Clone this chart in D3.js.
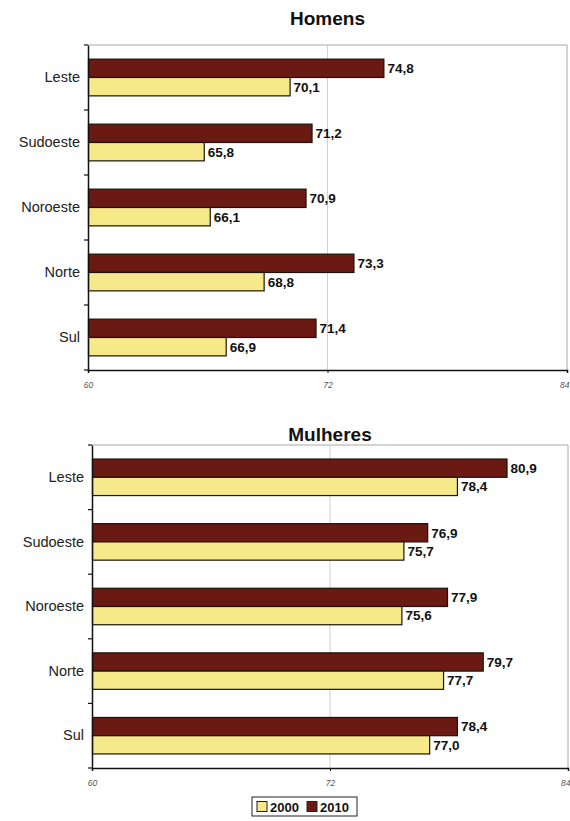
<!DOCTYPE html>
<html>
<head>
<meta charset="utf-8">
<script src="https://cdn.jsdelivr.net/npm/d3@7"></script>
<style>
  html, body { margin: 0; padding: 0; background: #fff; }
  svg { display: block; font-family: "Liberation Sans", Arial, sans-serif; }
</style>
</head>
<body>
<svg id="chart" width="570" height="821"></svg>
<script>
// Regions, top to bottom
const regions = ["Leste", "Sudoeste", "Noroeste", "Norte", "Sul"];
// Series drawn inside each band: 2010 on top, 2000 below
const years = ["2010", "2000"];
const legendYears = ["2000", "2010"];

// Life expectancy (years) by region
const homens2000 = [70.1, 65.8, 66.1, 68.8, 66.9];
const homens2010 = [74.8, 71.2, 70.9, 73.3, 71.4];
const mulheres2000 = [78.4, 75.7, 75.6, 77.7, 77.0];
const mulheres2010 = [80.9, 76.9, 77.9, 79.7, 78.4];

const xTicks = [60, 72, 84];

const colors = { "2000": "#f6e98a", "2010": "#6b1a13" };
const fmt = v => v.toFixed(1).replace(".", ",");

const svg = d3.select("#chart");

function panel(cfg) {
  const { title, v2000, v2010, left, right, top, bottom, titleY } = cfg;
  const g = svg.append("g");
  const x = d3.scaleLinear().domain([60, 84]).range([left, right]);
  const y = d3.scaleBand().domain(regions).range([top, bottom]).paddingInner(0).paddingOuter(0);
  const ySub = d3.scaleBand().domain(years).range([0, y.bandwidth()]).paddingOuter(0.77).paddingInner(0);

  const rows = regions.map((r, i) => ({ region: r, "2000": v2000[i], "2010": v2010[i] }));

  // plot frame: top and right edges
  g.append("path")
    .attr("d", `M${left},${top}H${right}V${bottom}`)
    .attr("fill", "none").attr("stroke", "#a8a8a8").attr("stroke-width", 1);

  // vertical grid at 72
  g.selectAll(".grid").data(xTicks.slice(1, -1)).join("line")
    .attr("x1", d => x(d)).attr("x2", d => x(d))
    .attr("y1", top).attr("y2", bottom)
    .attr("stroke", "#d0d0d0").attr("stroke-width", 1);

  // title
  g.append("text")
    .attr("x", (left + right) / 2).attr("y", titleY)
    .attr("text-anchor", "middle")
    .attr("font-size", 19).attr("font-weight", "bold").attr("fill", "#111")
    .text(title);

  // bars
  const grp = g.selectAll(".row").data(rows).join("g")
    .attr("transform", d => `translate(0,${y(d.region)})`);
  grp.selectAll("rect").data(d => years.map(k => ({ key: k, value: d[k] }))).join("rect")
    .attr("x", x(60) + 0.5)
    .attr("y", d => ySub(d.key))
    .attr("width", d => x(d.value) - x(60))
    .attr("height", ySub.bandwidth())
    .attr("fill", d => colors[d.key])
    .attr("stroke", "#1a1208").attr("stroke-width", 1.2);
  grp.selectAll("text").data(d => years.map(k => ({ key: k, value: d[k] }))).join("text")
    .attr("x", d => x(d.value) + 4)
    .attr("y", d => ySub(d.key) + ySub.bandwidth() / 2)
    .attr("dy", "0.36em")
    .attr("font-size", 13.5).attr("font-weight", "bold").attr("fill", "#111")
    .text(d => fmt(d.value));

  // left axis with category labels
  const yAxis = d3.axisLeft(y).tickSize(0).tickPadding(8);
  const ya = g.append("g").attr("transform", `translate(${left},0)`).call(yAxis);
  ya.select(".domain").attr("stroke", "#111").attr("stroke-width", 1.5);
  ya.selectAll("text").attr("font-size", 14.5).attr("fill", "#222")
    .attr("font-family", "'Liberation Sans', Arial, sans-serif");
  // band boundary ticks
  g.selectAll(".bt").data(d3.range(regions.length + 1)).join("line")
    .attr("x1", left - 4).attr("x2", left)
    .attr("y1", i => top + i * y.step()).attr("y2", i => top + i * y.step())
    .attr("stroke", "#111").attr("stroke-width", 1.2);

  // bottom axis
  const xAxis = d3.axisBottom(x).tickValues(xTicks).tickSize(3).tickPadding(9);
  const xa = g.append("g").attr("transform", `translate(0,${bottom})`).call(xAxis);
  xa.select(".domain").attr("stroke", "#111").attr("stroke-width", 1.5);
  xa.selectAll("line").attr("stroke", "#111");
  xa.selectAll("text").attr("font-size", 8.5).attr("font-style", "italic").attr("fill", "#555")
    .attr("font-family", "'Liberation Sans', Arial, sans-serif")
    // keep the last label inside the page edge
    .attr("text-anchor", d => d === xTicks[xTicks.length - 1] ? "end" : "middle")
    .attr("dx", d => d === xTicks[xTicks.length - 1] ? 2 : 0);
}

panel({ title: "Homens", v2000: homens2000, v2010: homens2010,
        left: 88, right: 567, top: 45, bottom: 370, titleY: 25 });
panel({ title: "Mulheres", v2000: mulheres2000, v2010: mulheres2010,
        left: 92, right: 568, top: 445, bottom: 768, titleY: 441 });

// legend
const lg = svg.append("g").attr("transform", "translate(252,797)");
lg.append("rect").attr("width", 105).attr("height", 19)
  .attr("fill", "#fff").attr("stroke", "#222").attr("stroke-width", 1);
const items = lg.selectAll(".item").data(legendYears).join("g")
  .attr("transform", (d, i) => `translate(${5 + i * 50},4)`);
items.append("rect").attr("width", 10).attr("height", 10).attr("y", 0.5)
  .attr("fill", d => colors[d]).attr("stroke", "#222").attr("stroke-width", 1);
items.append("text").attr("x", 13).attr("y", 6).attr("dy", "0.36em")
  .attr("font-size", 13).attr("font-weight", "bold").attr("fill", "#111")
  .text(d => d);
</script>
</body>
</html>
